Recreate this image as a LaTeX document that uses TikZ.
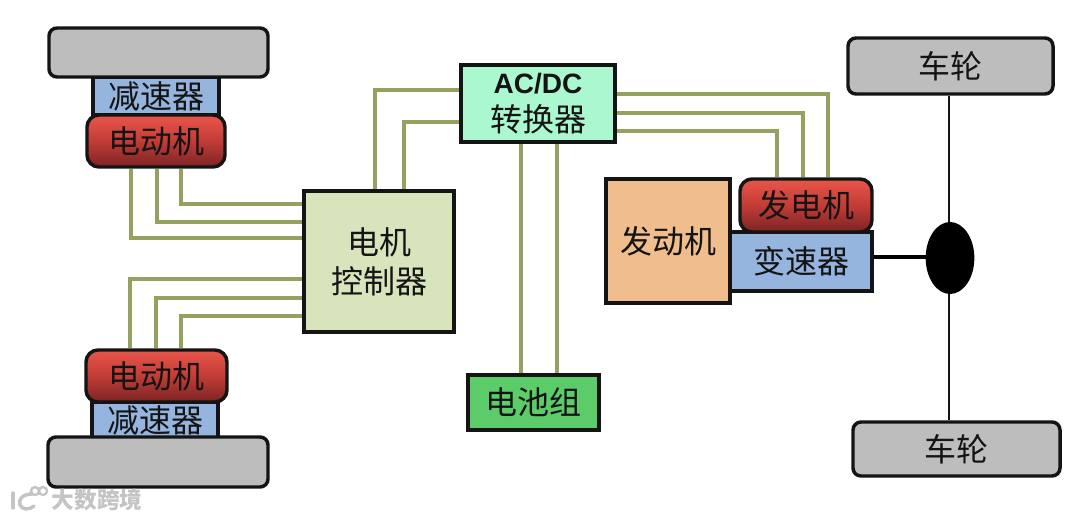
\documentclass[tikz,border=0pt]{standalone}
\usepackage{fontspec}
\setmainfont{Noto Sans CJK SC}
\newfontfamily\latinf{Liberation Sans}
\usetikzlibrary{calc,shapes.geometric,backgrounds}
\definecolor{wirec}{HTML}{94A260}
\definecolor{greyc}{HTML}{BDBDBD}
\definecolor{bluec}{HTML}{95B4DE}
\definecolor{redtop}{HTML}{E9564A}
\definecolor{redmid}{HTML}{C23C36}
\definecolor{redbot}{HTML}{7A2424}
\definecolor{ctrlc}{HTML}{D8E4BC}
\definecolor{mintc}{HTML}{ABF7CF}
\definecolor{battc}{HTML}{5CCB6A}
\definecolor{engc}{HTML}{F0BE8C}
\definecolor{inkc}{HTML}{141414}
\definecolor{wmc}{HTML}{C4C4C4}
\tikzset{
 box/.style={draw=inkc,line width=2.6pt,inner sep=0pt,font=\fontsize{24}{29}\selectfont,text=inkc,align=center},
 sz/.style 2 args={minimum width=#1*0.75pt,minimum height=#2*0.75pt},
 wheelbox/.style={box,fill=greyc,rounded corners=6pt},
 redbox/.style={box,rounded corners=9pt,top color=redtop,bottom color=redbot,middle color=redmid},
 bluebox/.style={box,fill=bluec},
 wire/.style={draw=wirec,line width=2.8pt},
 axle/.style={draw=inkc,line width=1.2pt},
 shaft/.style={draw=black,line width=3.4pt},
 wmline/.style={draw=wmc,line width=2.6pt,line cap=round}
}
\begin{document}
\begin{tikzpicture}[x=0.75pt,y=-0.75pt]
\useasboundingbox (0,0) rectangle (1080,519);
% boxes
\node[bluebox,sz={126}{38}] (r1) at (156,96) {减速器};
\node[wheelbox,sz={219}{49}] (w1) at (158.5,52.5) {};
\node[redbox,sz={138}{52}] (m1) at (156,141) {电动机};
\node[bluebox,sz={126}{35}] (r2) at (155,420) {减速器};
\node[wheelbox,sz={220}{50}] (w2) at (158,462) {};
\node[redbox,sz={141}{52}] (m2) at (156.5,376) {电动机};
\node[box,fill=ctrlc,sz={150}{141}] (ctrl) at (379,261.5) {电机\\控制器};
\node[box,fill=mintc,sz={154}{77}] (conv) at (538,103.5) {{\latinf\bfseries\fontsize{21}{29}\selectfont AC/DC}\\转换器};
\node[box,fill=battc,sz={131}{55}] (batt) at (533.5,402.5) {电池组};
\node[box,fill=engc,sz={124}{124}] (eng) at (668,241) {发动机};
\node[bluebox,sz={142}{59}] (gear) at (801,261.5) {变速器};
\node[redbox,sz={132}{53}] (gen) at (806,205.5) {发电机};
\node[wheelbox,sz={205}{56}] (w3) at (950.5,66) {车轮};
\node[wheelbox,sz={207}{54}] (w4) at (956.5,449) {车轮};
\node[ellipse,fill=black,draw=none,minimum width=36.5pt,minimum height=54pt,inner sep=0pt] (diff) at (950,258) {};
% connectors
\begin{scope}[on background layer]
\draw[wire] ($(m1.south)+(-25,0)$) |- ($(ctrl.west)+(0,-23.5)$);
\draw[wire] ($(m1.south)+(1,0)$) |- ($(ctrl.west)+(0,-39.5)$);
\draw[wire] ($(m1.south)+(25,0)$) |- ($(ctrl.west)+(0,-57.5)$);
\draw[wire] ($(m2.north)+(-26.5,0)$) |- ($(ctrl.west)+(0,17.5)$);
\draw[wire] ($(m2.north)+(-0.5,0)$) |- ($(ctrl.west)+(0,36.5)$);
\draw[wire] ($(m2.north)+(24.5,0)$) |- ($(ctrl.west)+(0,54.5)$);
\draw[wire] ($(ctrl.north)+(-4,0)$) |- ($(conv.west)+(0,-13.5)$);
\draw[wire] ($(ctrl.north)+(25,0)$) |- ($(conv.west)+(0,18.5)$);
\draw[wire] ($(conv.east)+(0,-9.5)$) -| ($(gen.north)+(22,0)$);
\draw[wire] ($(conv.east)+(0,9.5)$) -| ($(gen.north)+(-3,0)$);
\draw[wire] ($(conv.east)+(0,27.5)$) -| ($(gen.north)+(-29,0)$);
\draw[wire] ($(conv.south)+(-17,0)$) -- ($(batt.north)+(-12.5,0)$);
\draw[wire] ($(conv.south)+(19,0)$) -- ($(batt.north)+(23.5,0)$);
\draw[shaft] ($(gear.east)+(0,-4.5)$) -- ($(diff.center)+(0,-1)$);
\draw[axle] ($(w3.south)+(-1.5,0)$) -- ($(w4.north)+(-7.5,0)$);
\end{scope}
% watermark
\node[font=\fontsize{17}{20}\selectfont\bfseries,text=wmc,inner sep=0pt] (wmt) at (97,500) {大数跨境};
\draw[wmline] (13,493) -- (13,508);
\draw[wmline] (32,494) .. controls (22,494) and (18,500) .. (20,505) .. controls (22,510) and (30,510) .. (34,506);
\draw[wmline,line width=1.8pt] (35,491) circle[radius=4];
\draw[wmline,line width=1.8pt] (43,491) circle[radius=4];
\end{tikzpicture}
\end{document}
